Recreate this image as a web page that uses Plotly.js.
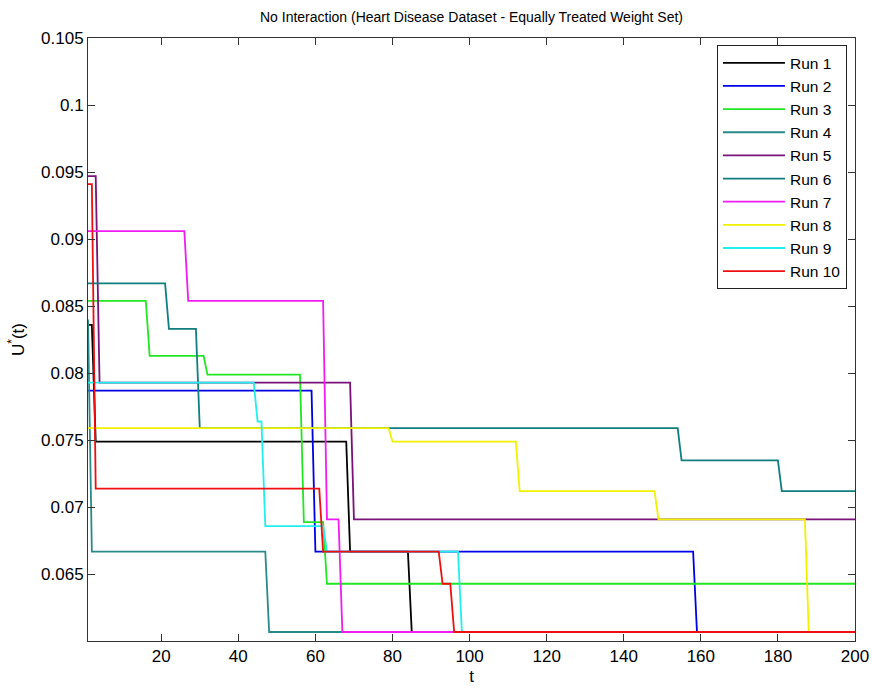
<!DOCTYPE html>
<html>
<head>
<meta charset="utf-8">
<script src="https://cdn.plot.ly/plotly-3.0.1.min.js"></script>
<style>html,body{margin:0;padding:0;background:#fff;}#chart{width:872px;height:688px;}</style>
</head>
<body>
<div id="chart"></div>
<script>
// Breakpoints of each run (t, U*(t))
const run1T = [1, 2, 3, 68, 69, 84, 85, 200];
const run1U = [0.0836, 0.0836, 0.0749, 0.0749, 0.0667, 0.0667, 0.0607, 0.0607];
const run2T = [1, 59, 60, 158, 159, 200];
const run2U = [0.0787, 0.0787, 0.0667, 0.0667, 0.0607, 0.0607];
const run3T = [1, 16, 17, 31, 32, 56, 57, 62, 63, 200];
const run3U = [0.0854, 0.0854, 0.0813, 0.0813, 0.0799, 0.0799, 0.0689, 0.0689, 0.0643, 0.0643];
const run4T = [1, 2, 47, 48, 200];
const run4U = [0.0840, 0.0667, 0.0667, 0.0607, 0.0607];
const run5T = [1, 3, 4, 69, 70, 200];
const run5U = [0.0947, 0.0947, 0.0793, 0.0793, 0.0691, 0.0691];
const run6T = [1, 21, 22, 29, 30, 154, 155, 180, 181, 200];
const run6U = [0.0867, 0.0867, 0.0833, 0.0833, 0.0759, 0.0759, 0.0735, 0.0735, 0.0712, 0.0712];
const run7T = [1, 26, 27, 62, 63, 66, 67, 200];
const run7U = [0.0906, 0.0906, 0.0854, 0.0854, 0.0691, 0.0691, 0.0607, 0.0607];
const run8T = [1, 79, 80, 112, 113, 148, 149, 187, 188, 200];
const run8U = [0.0759, 0.0759, 0.0749, 0.0749, 0.0712, 0.0712, 0.0691, 0.0691, 0.0607, 0.0607];
const run9T = [1, 44, 45, 46, 47, 62, 63, 97, 98, 200];
const run9U = [0.0793, 0.0793, 0.0764, 0.0764, 0.0686, 0.0686, 0.0667, 0.0667, 0.0607, 0.0607];
const run10T = [1, 2, 3, 61, 62, 92, 93, 95, 96, 200];
const run10U = [0.0941, 0.0941, 0.0714, 0.0714, 0.0667, 0.0667, 0.0643, 0.0643, 0.0607, 0.0607];

const runNames = ["Run 1", "Run 2", "Run 3", "Run 4", "Run 5", "Run 6", "Run 7", "Run 8", "Run 9", "Run 10"];
const runColors = ["#000000", "#0000e6", "#22e622", "#2a8a8a", "#7a127a", "#107e7e", "#f01cf0", "#f2f200", "#22eeee", "#ee1010"];

const xTickVals = [20, 40, 60, 80, 100, 120, 140, 160, 180, 200];
const xTickText = ["20", "40", "60", "80", "100", "120", "140", "160", "180", "200"];
const yTickVals = [0.065, 0.07, 0.075, 0.08, 0.085, 0.09, 0.095, 0.1, 0.105];
const yTickText = ["0.065", "0.07", "0.075", "0.08", "0.085", "0.09", "0.095", "0.1", "0.105"];

const allT = [run1T, run2T, run3T, run4T, run5T, run6T, run7T, run8T, run9T, run10T];
const allU = [run1U, run2U, run3U, run4U, run5U, run6U, run7U, run8U, run9U, run10U];

const traces = runNames.map((name, i) => ({
  type: "scatter",
  mode: "lines",
  name: name,
  x: allT[i],
  y: allU[i],
  line: {color: runColors[i], width: 1.8}
}));

const font = {family: "Liberation Sans, Arial, sans-serif", size: 17, color: "#000"};

const layout = {
  width: 872,
  height: 688,
  margin: {l: 88, r: 17, t: 38, b: 47},
  paper_bgcolor: "#fff",
  plot_bgcolor: "#fff",
  font: font,
  showlegend: true,
  title: {
    text: "No Interaction (Heart Disease Dataset - Equally Treated Weight Set)",
    font: {family: "Liberation Sans, Arial, sans-serif", size: 14, color: "#000"},
    x: 0.5, xref: "paper", xanchor: "center",
    y: 0.975, yref: "container", yanchor: "middle"
  },
  xaxis: {
    range: [1, 200],
    tickvals: xTickVals,
    ticktext: xTickText,
    ticks: "inside",
    ticklen: 7,
    tickcolor: "#333",
    showline: true,
    linecolor: "#333",
    linewidth: 1,
    mirror: "ticks",
    showgrid: false,
    zeroline: false,
    tickfont: font,
    title: {text: "t", font: font, standoff: 4}
  },
  yaxis: {
    range: [0.06003, 0.105],
    tickvals: yTickVals,
    ticktext: yTickText,
    ticks: "inside",
    ticklen: 7,
    tickcolor: "#333",
    showline: true,
    linecolor: "#333",
    linewidth: 1,
    mirror: "ticks",
    showgrid: false,
    zeroline: false,
    tickfont: font,
    title: {text: "U<sup>*</sup>(t)", font: font, standoff: 12}
  },
  legend: {
    x: 0.82, xanchor: "left",
    y: 0.988, yanchor: "top",
    bgcolor: "#fff",
    bordercolor: "#222",
    borderwidth: 1,
    font: {family: "Liberation Sans, Arial, sans-serif", size: 15.5, color: "#000"},
    tracegroupgap: 0,
    itemwidth: 62
  }
};

Plotly.newPlot("chart", traces, layout, {displayModeBar: false, staticPlot: true});
</script>
</body>
</html>
